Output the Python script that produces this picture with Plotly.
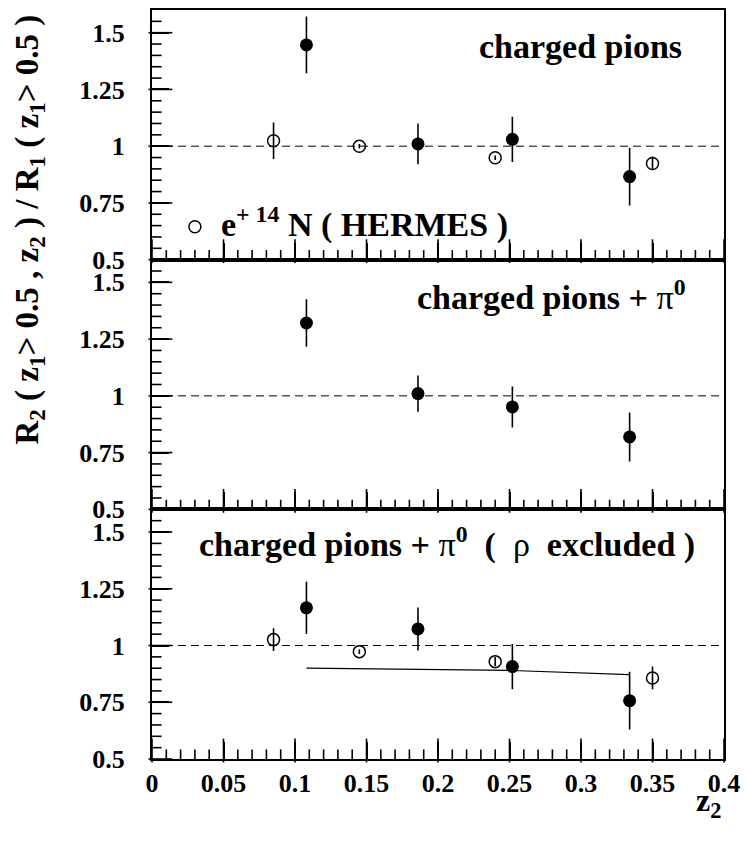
import plotly.graph_objects as go
from plotly.subplots import make_subplots

# z2 bin centres of the two data sets
z2_this = [0.108, 0.186, 0.252, 0.334]
z2_hermes = [0.085, 0.145, 0.240, 0.350]

# Panel 1: charged pions
r_charged = [1.446, 1.010, 1.030, 0.866]
e_charged = [0.125, 0.090, 0.100, 0.127]
r_hermes_charged = [1.024, 1.000, 0.949, 0.924]
e_hermes_charged = [0.080, 0.010, 0.010, 0.030]

# Panel 2: charged pions + pi0
r_pi0 = [1.321, 1.010, 0.951, 0.819]
e_pi0 = [0.105, 0.080, 0.090, 0.108]

# Panel 3: charged pions + pi0, rho excluded
r_norho = [1.166, 1.073, 0.907, 0.757]
e_norho = [0.115, 0.095, 0.100, 0.127]
r_hermes_norho = [1.026, 0.973, 0.929, 0.857]
e_hermes_norho = [0.050, 0.010, 0.020, 0.050]

# model curve in panel 3
z2_model = [0.108, 0.186, 0.252, 0.334]
r_model = [0.900, 0.895, 0.890, 0.872]

x_ticks = [0, 0.05, 0.1, 0.15, 0.2, 0.25, 0.3, 0.35, 0.4]
x_ticktext = ["0", "0.05", "0.1", "0.15", "0.2", "0.25", "0.3", "0.35", "0.4"]
y_ticks = [0.5, 0.75, 1.0, 1.25, 1.5]
y_ticktext = ["0.5", "0.75", "1", "1.25", "1.5"]

X_RANGE = [0, 0.4]
Y_RANGE = [0.5, 1.6]
X_MINOR_STEP = 0.01
Y_MINOR_STEP = 0.05

FONT = "Liberation Serif"
W, H = 748, 844
ML, MR, MT, MB = 152, 18, 8, 85
PLOT_W = W - ML - MR
PANEL_H = (H - MT - MB) / 3
MAJOR_LEN, MINOR_LEN = 17, 8

fig = make_subplots(rows=3, cols=1, shared_xaxes=True, vertical_spacing=0)


def steps(lo, hi, step):
    n = int(round((hi - lo) / step))
    return [round(lo + i * step, 4) for i in range(n + 1)]


x_minor = [v for v in steps(X_RANGE[0], X_RANGE[1], X_MINOR_STEP) if v not in x_ticks]
y_minor = [v for v in steps(Y_RANGE[0], 1.55, Y_MINOR_STEP) if v not in y_ticks]

# half tick lengths in data units, so each tick marker starts on the frame
x_per_px = (X_RANGE[1] - X_RANGE[0]) / PLOT_W
y_per_px = (Y_RANGE[1] - Y_RANGE[0]) / PANEL_H


def tick_marks(x, y, symbol, size, row):
    fig.add_trace(go.Scatter(
        x=x, y=y, mode="markers", hoverinfo="skip", cliponaxis=False,
        marker=dict(symbol=symbol, size=size, color="black",
                    line=dict(color="black", width=1.6)),
        showlegend=False), row=row, col=1)


def frame_ticks(row):
    """ROOT-style ticks pointing into the frame along the bottom and left edges."""
    for vals, length in ((x_ticks, MAJOR_LEN), (x_minor, MINOR_LEN)):
        tick_marks(vals, [Y_RANGE[0] + length / 2 * y_per_px] * len(vals),
                   "line-ns", length, row)
    for vals, length in ((y_ticks, MAJOR_LEN), (y_minor, MINOR_LEN)):
        tick_marks([X_RANGE[0] + length / 2 * x_per_px] * len(vals), vals,
                   "line-ew", length, row)


def unity(row):
    fig.add_trace(go.Scatter(x=X_RANGE, y=[1, 1], mode="lines", hoverinfo="skip",
                             line=dict(color="black", width=1, dash="8px,5px"),
                             showlegend=False), row=row, col=1)


def filled(x, y, e, row):
    fig.add_trace(go.Scatter(
        x=x, y=y, mode="markers",
        marker=dict(symbol="circle", size=13, color="black"),
        error_y=dict(type="data", array=e, width=0, thickness=1.6, color="black"),
        showlegend=False), row=row, col=1)


def hollow(x, y, e, row):
    fig.add_trace(go.Scatter(
        x=x, y=y, mode="markers",
        marker=dict(symbol="circle-open", size=12, color="black", line=dict(width=1.5)),
        error_y=dict(type="data", array=e, width=0, thickness=1.6, color="black"),
        showlegend=False), row=row, col=1)


for r in (1, 2, 3):
    unity(r)
    frame_ticks(r)

hollow(z2_hermes, r_hermes_charged, e_hermes_charged, 1)
filled(z2_this, r_charged, e_charged, 1)
filled(z2_this, r_pi0, e_pi0, 2)
fig.add_trace(go.Scatter(x=z2_model, y=r_model, mode="lines",
                         line=dict(color="black", width=1.2), showlegend=False),
              row=3, col=1)
hollow(z2_hermes, r_hermes_norho, e_hermes_norho, 3)
filled(z2_this, r_norho, e_norho, 3)

# legend symbol for the HERMES points
fig.add_trace(go.Scatter(x=[0.030], y=[0.645], mode="markers",
                         marker=dict(symbol="circle-open", size=12, color="black",
                                     line=dict(width=1.5)),
                         showlegend=False), row=1, col=1)

tickfont = dict(family=FONT, size=26, color="black", weight="bold")
for r in (1, 2, 3):
    fig.update_yaxes(
        range=Y_RANGE, tickmode="array", tickvals=y_ticks, ticktext=y_ticktext,
        ticks="inside", ticklen=MAJOR_LEN, tickwidth=1.5, tickcolor="black",
        showline=True, linewidth=2, linecolor="black", mirror=True,
        showgrid=False, zeroline=False,
        tickfont=tickfont, ticklabelstandoff=20,
        row=r, col=1)
    fig.update_xaxes(
        range=X_RANGE, tickmode="array", tickvals=x_ticks, ticktext=x_ticktext,
        ticks="inside", ticklen=MAJOR_LEN, tickwidth=1.5, tickcolor="black",
        showline=True, linewidth=2, linecolor="black", mirror=True,
        showgrid=False, zeroline=False,
        showticklabels=(r == 3),
        tickfont=tickfont,
        row=r, col=1)

bold = dict(family=FONT, size=34, color="black", weight="bold")
normal = "<span style='font-weight:normal'>{}</span>"

ann = [
    dict(text="charged pions", xref="x", yref="y", x=0.372, y=1.44,
         xanchor="right", yanchor="middle", showarrow=False, font=bold),
    dict(text="e<sup>+ 14</sup> N ( HERMES )", xref="x", yref="y", x=0.047, y=0.665,
         xanchor="left", yanchor="middle", showarrow=False, font=bold),
    dict(text="charged pions + " + normal.format("π") + "<sup>0</sup>",
         xref="x2", yref="y2", x=0.375, y=1.446,
         xanchor="right", yanchor="middle", showarrow=False, font=bold),
    dict(text="charged pions + " + normal.format("π") + "<sup>0</sup>"
              "  (  " + normal.format("ρ") + "  excluded )",
         xref="x3", yref="y3", x=0.381, y=1.452,
         xanchor="right", yanchor="middle", showarrow=False, font=bold),
    dict(text="R<sub>2</sub> ( z<sub>1</sub>> 0.5 , z<sub>2</sub> ) / R<sub>1</sub>"
              " ( z<sub>1</sub>> 0.5 )",
         xref="paper", yref="paper", x=(28 - ML) / PLOT_W, y=0.997,
         xanchor="center", yanchor="top", textangle=-90, showarrow=False,
         font=dict(family=FONT, size=33, color="black", weight="bold")),
    dict(text="z<sub>2</sub>", xref="paper", yref="paper",
         x=(729 - ML) / PLOT_W, y=1 - (803 - MT) / (H - MT - MB),
         xanchor="right", yanchor="middle", showarrow=False,
         font=dict(family=FONT, size=32, color="black", weight="bold")),
]
fig.update_layout(
    width=W, height=H, margin=dict(l=ML, r=MR, t=MT, b=MB),
    paper_bgcolor="white", plot_bgcolor="white",
    annotations=ann, showlegend=False,
)

fig.write_html("out.html")
